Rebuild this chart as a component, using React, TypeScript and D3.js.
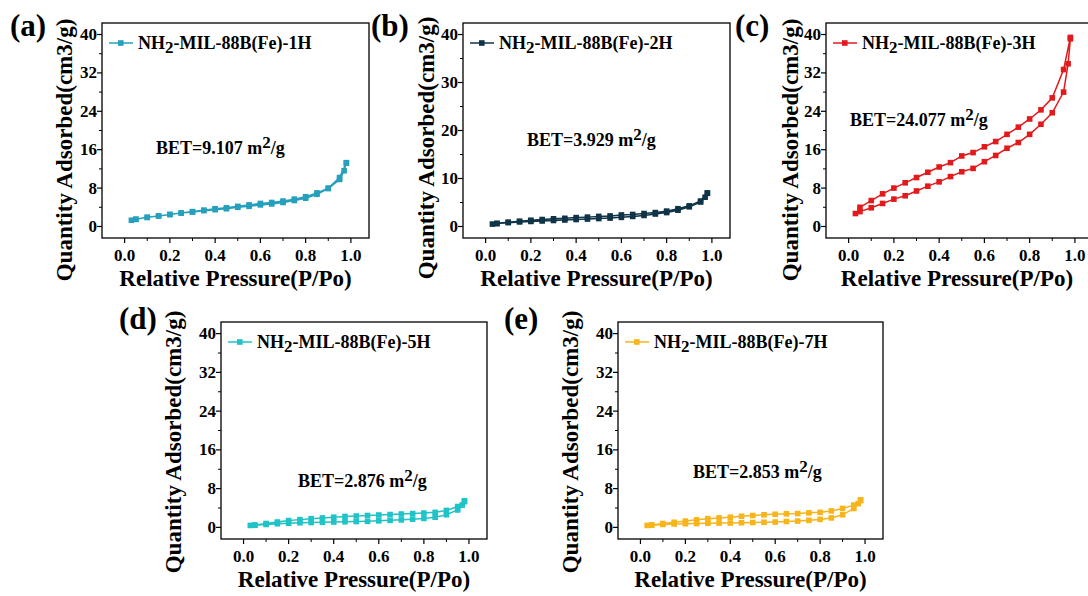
import React, { useEffect, useRef } from 'react';
import * as d3 from 'd3';

// relative pressure steps, adsorption goes up, desorption comes back down
const adsP = [0.03, 0.05, 0.10, 0.15, 0.20, 0.25, 0.30, 0.35, 0.40, 0.45, 0.50, 0.55, 0.60, 0.65, 0.70, 0.75, 0.80, 0.85, 0.90, 0.95, 0.97, 0.98];
const desP = [0.98, 0.95, 0.90, 0.85, 0.80, 0.75, 0.70, 0.65, 0.60, 0.55, 0.50, 0.45, 0.40, 0.35, 0.30, 0.25, 0.20, 0.15, 0.10, 0.05];

const ads1H = [1.3, 1.5, 1.9, 2.2, 2.5, 2.8, 3.0, 3.3, 3.5, 3.7, 4.0, 4.2, 4.5, 4.7, 5.0, 5.4, 5.9, 6.7, 7.9, 9.8, 11.6, 13.2];
const des1H = [13.3, 10.2, 8.0, 7.0, 6.2, 5.7, 5.3, 5.0, 4.8, 4.5, 4.2, 3.9, 3.7, 3.4, 3.1, 2.8, 2.5, 2.2, 1.9, 1.5];

const ads2H = [0.5, 0.6, 0.8, 0.95, 1.05, 1.15, 1.25, 1.35, 1.45, 1.55, 1.65, 1.75, 1.9, 2.1, 2.3, 2.6, 2.9, 3.4, 4.1, 5.1, 6.1, 6.9];
const des2H = [7.0, 5.3, 4.3, 3.7, 3.2, 2.9, 2.7, 2.5, 2.4, 2.2, 2.1, 1.95, 1.85, 1.7, 1.6, 1.45, 1.3, 1.1, 0.9, 0.65];

const ads3H = [2.7, 3.1, 3.9, 4.8, 5.7, 6.4, 7.4, 8.4, 9.3, 10.4, 11.4, 12.1, 13.5, 14.8, 16.3, 17.5, 19.2, 21.3, 23.7, 28.0, 33.9, 39.1];
const des3H = [39.4, 32.7, 26.8, 24.3, 22.4, 20.7, 19.2, 17.7, 16.6, 15.4, 14.7, 13.3, 12.4, 11.3, 10.2, 9.1, 8.0, 6.8, 5.4, 4.0];

const ads5H = [0.4, 0.45, 0.6, 0.75, 0.85, 0.95, 1.0, 1.05, 1.1, 1.15, 1.2, 1.25, 1.35, 1.45, 1.55, 1.7, 1.85, 2.1, 2.6, 3.6, 4.6, 5.3];
const des5H = [5.5, 4.3, 3.5, 3.1, 2.95, 2.85, 2.75, 2.65, 2.55, 2.45, 2.35, 2.25, 2.1, 1.95, 1.8, 1.6, 1.4, 1.1, 0.8, 0.5];

const ads7H = [0.4, 0.45, 0.6, 0.7, 0.75, 0.8, 0.85, 0.88, 0.9, 0.95, 1.0, 1.05, 1.1, 1.2, 1.3, 1.45, 1.65, 1.95, 2.6, 3.9, 4.9, 5.5];
const des7H = [5.7, 4.6, 3.9, 3.4, 3.1, 3.0, 2.85, 2.8, 2.7, 2.6, 2.45, 2.3, 2.1, 1.95, 1.8, 1.55, 1.3, 1.05, 0.8, 0.5];

const xTicks = [0, 0.2, 0.4, 0.6, 0.8, 1.0];
const yTicks8 = [0, 8, 16, 24, 32, 40];
const yTicks10 = [0, 10, 20, 30, 40];

const sampleNames = ['1H', '2H', '3H', '5H', '7H'];
const betValues = ['9.107', '3.929', '24.077', '2.876', '2.853'];
const panelLetters = ['(a)', '(b)', '(c)', '(d)', '(e)'];

const FONT = 'Liberation Serif, Times New Roman, DejaVu Serif, serif';

// layout of each panel on the page
const panels = [
  { ads: ads1H, des: des1H, yTicks: yTicks8, color: '#26a0bc', x0: 102, x1: 369, y0: 23, y1: 238, label: [10, 36], yTitle: [72, 150], bet: [156, 154] },
  { ads: ads2H, des: des2H, yTicks: yTicks10, color: '#0f3347', x0: 463, x1: 730, y0: 23, y1: 238, label: [371, 36], yTitle: [434, 148], bet: [527, 146] },
  { ads: ads3H, des: des3H, yTicks: yTicks8, color: '#e31a1c', x0: 826, x1: 1093, y0: 23, y1: 238, label: [735, 36], yTitle: [798, 150], bet: [850, 126] },
  { ads: ads5H, des: des5H, yTicks: yTicks8, color: '#1fc3c8', x0: 221, x1: 487, y0: 322, y1: 539, label: [119, 329], yTitle: [181, 442], bet: [298, 487] },
  { ads: ads7H, des: des7H, yTicks: yTicks8, color: '#f7b51b', x0: 618, x1: 883, y0: 322, y1: 539, label: [504, 329], yTitle: [578, 442], bet: [693, 478] },
];

function txt(sel, size) {
  return sel.style('font-family', FONT).style('font-weight', 'bold').style('font-size', size + 'px');
}

function drawPanel(svg, p, i) {
  const g = svg.append('g');
  const x = d3.scaleLinear().domain([-0.1, 1.08]).range([p.x0, p.x1]);
  const y = d3.scaleLinear().domain([-2.4, 42.4]).range([p.y1, p.y0]);

  const step = p.yTicks[1] - p.yTicks[0];
  const yMinor = d3.range(step / 2, 40, step);
  const xMinor = d3.range(0.1, 1.0, 0.2);

  // ticks, outward
  g.selectAll('.xt').data(xTicks).enter().append('line')
    .attr('x1', d => x(d)).attr('x2', d => x(d))
    .attr('y1', p.y1).attr('y2', p.y1 + 5)
    .attr('stroke', '#000').attr('stroke-width', 1.2);
  g.selectAll('.xm').data(xMinor).enter().append('line')
    .attr('x1', d => x(d)).attr('x2', d => x(d))
    .attr('y1', p.y1).attr('y2', p.y1 + 3)
    .attr('stroke', '#000').attr('stroke-width', 1);
  g.selectAll('.yt').data(p.yTicks).enter().append('line')
    .attr('x1', p.x0 - 5).attr('x2', p.x0)
    .attr('y1', d => y(d)).attr('y2', d => y(d))
    .attr('stroke', '#000').attr('stroke-width', 1.2);
  g.selectAll('.ym').data(yMinor).enter().append('line')
    .attr('x1', p.x0 - 3).attr('x2', p.x0)
    .attr('y1', d => y(d)).attr('y2', d => y(d))
    .attr('stroke', '#000').attr('stroke-width', 1);

  // tick labels
  txt(g.selectAll('.xl').data(xTicks).enter().append('text')
    .attr('x', d => x(d)).attr('y', p.y1 + 23)
    .attr('text-anchor', 'middle'), 17)
    .text(d => d.toFixed(1));
  txt(g.selectAll('.yl').data(p.yTicks).enter().append('text')
    .attr('x', p.x0 - 5).attr('y', d => y(d) + 5.5)
    .attr('text-anchor', 'end'), 17)
    .text(d => d);

  // axis titles
  txt(g.append('text')
    .attr('x', (p.x0 + Math.min(p.x1, 1088)) / 2).attr('y', p.y1 + 48)
    .attr('text-anchor', 'middle'), 23)
    .text('Relative Pressure(P/Po)');
  txt(g.append('text')
    .attr('transform', `translate(${p.yTitle[0]},${p.yTitle[1]}) rotate(-90)`)
    .attr('text-anchor', 'middle'), 23)
    .text('Quantity Adsorbed(cm3/g)');

  // isotherm: adsorption then desorption
  const pts = adsP.map((v, k) => [v, p.ads[k]]).concat(desP.map((v, k) => [v, p.des[k]]));
  const line = d3.line().x(d => x(d[0])).y(d => y(d[1]));
  g.append('path')
    .attr('d', line(pts))
    .attr('fill', 'none').attr('stroke', p.color).attr('stroke-width', 1.5);
  g.selectAll('.pt').data(pts).enter().append('rect')
    .attr('x', d => x(d[0]) - 2.8).attr('y', d => y(d[1]) - 2.8)
    .attr('width', 5.6).attr('height', 5.6)
    .attr('fill', p.color);

  // frame
  g.append('rect')
    .attr('x', p.x0).attr('y', p.y0)
    .attr('width', p.x1 - p.x0).attr('height', p.y1 - p.y0)
    .attr('fill', 'none').attr('stroke', '#000').attr('stroke-width', 1.3);

  // legend
  const ly = p.y0 + 20;
  g.append('line')
    .attr('x1', p.x0 + 7).attr('x2', p.x0 + 31).attr('y1', ly).attr('y2', ly)
    .attr('stroke', p.color).attr('stroke-width', 1.5);
  g.append('rect')
    .attr('x', p.x0 + 16).attr('y', ly - 2.8).attr('width', 5.6).attr('height', 5.6)
    .attr('fill', p.color);
  const lt = txt(g.append('text')
    .attr('x', p.x0 + 36).attr('y', ly + 6), 18);
  lt.append('tspan').text('NH');
  lt.append('tspan').attr('dy', 4).style('font-size', '17px').text('2');
  lt.append('tspan').attr('dy', -4).text('-MIL-88B(Fe)-' + sampleNames[i]);

  // BET annotation
  const bt = txt(g.append('text')
    .attr('x', p.bet[0]).attr('y', p.bet[1]), 18);
  bt.append('tspan').text('BET=' + betValues[i] + ' m');
  bt.append('tspan').attr('dy', -6).style('font-size', '17px').text('2');
  bt.append('tspan').attr('dy', 6).text('/g');

  // panel letter
  txt(g.append('text')
    .attr('x', p.label[0]).attr('y', p.label[1]), 31)
    .text(panelLetters[i]);
}

export default function App() {
  const ref = useRef(null);

  useEffect(() => {
    const svg = d3.select(ref.current);
    svg.selectAll('*').remove();
    svg.append('rect').attr('width', 1088).attr('height', 596).attr('fill', '#fff');
    panels.forEach((p, i) => drawPanel(svg, p, i));
  }, []);

  return (
    <svg ref={ref} width={1088} height={596}
      style={{ position: 'absolute', left: 0, top: 0, display: 'block' }} />
  );
}
